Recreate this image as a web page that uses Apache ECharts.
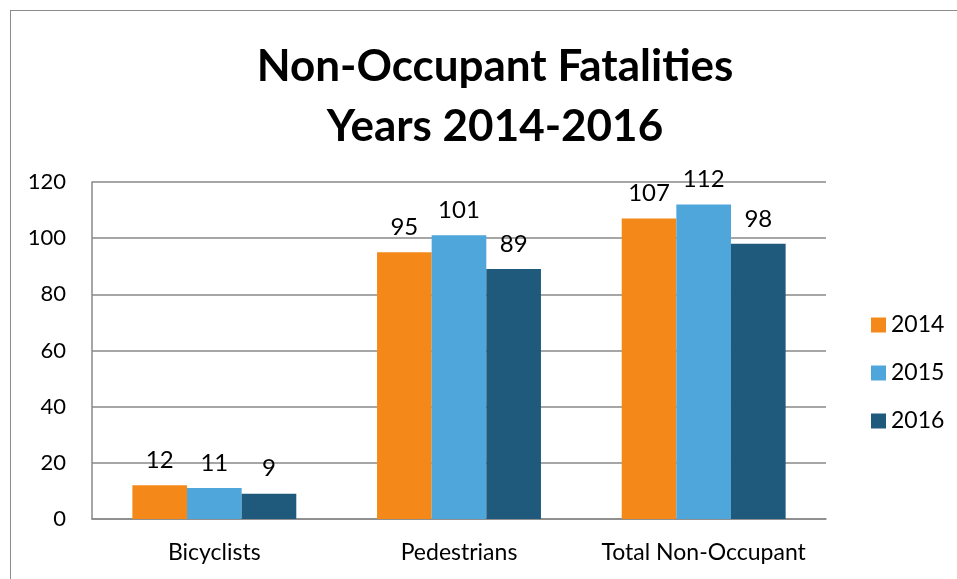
<!DOCTYPE html>
<html><head><meta charset="utf-8">
<script src="https://cdn.jsdelivr.net/npm/echarts@6/dist/echarts.min.js"></script>
<style>html,body{margin:0;padding:0;background:#fff}#c{width:957px;height:579px}
#frame{position:absolute;left:10px;top:10px;right:-5px;bottom:-5px;border:1.5px solid #8c8c8c;pointer-events:none}</style>
</head><body><div id="c"></div><div id="frame"></div>
<script>
const categories = ['Bicyclists', 'Pedestrians', 'Total Non-Occupant'];
const years = ['2014', '2015', '2016'];
const v2014 = [12, 95, 107];
const v2015 = [11, 101, 112];
const v2016 = [9, 89, 98];
const colors = ['#F4891A', '#4EA6DA', '#1F5A7D'];
const font = 'Lato, "Open Sans", sans-serif';
const chart = echarts.init(document.getElementById('c'));
const mk = (name, data, i) => ({
  name, type: 'bar', data, barGap: 0, barCategoryGap: '33%',
  itemStyle: { color: colors[i] },
  label: { show: true, position: 'top', distance: 13, color: '#000', fontSize: 24, fontFamily: font, lineHeight: 24 }
});
chart.setOption({
  animation: false,
  title: {
    text: 'Non-Occupant Fatalities\nYears 2014-2016', left: 490, top: 32, textAlign: 'center',
    textStyle: { fontSize: 44, fontWeight: 'bold', fontFamily: font, lineHeight: 60, color: '#000' }
  },
  legend: {
    orient: 'vertical', left: 866, top: 308, itemGap: 24, itemWidth: 15, itemHeight: 15,
    icon: 'rect', textStyle: { fontSize: 23, fontFamily: font, color: '#000', lineHeight: 24 }
  },
  grid: { left: 92, right: 131, top: 182, bottom: 60 },
  xAxis: {
    type: 'category', data: categories,
    axisLine: { lineStyle: { color: '#898989', width: 1.5 } }, axisTick: { show: false },
    axisLabel: { interval: 0, hideOverlap: false, fontSize: 23, fontFamily: font, color: '#000', margin: 22, lineHeight: 24 }
  },
  yAxis: {
    type: 'value', min: 0, max: 120, interval: 20,
    axisLine: { show: true, lineStyle: { color: '#898989', width: 1.5 } },
    splitLine: { lineStyle: { color: '#898989', width: 1.5 } },
    axisLabel: { fontSize: 22, fontFamily: font, color: '#000', margin: 26 }
  },
  series: [mk(years[0], v2014, 0), mk(years[1], v2015, 1), mk(years[2], v2016, 2)]
});
</script></body></html>
